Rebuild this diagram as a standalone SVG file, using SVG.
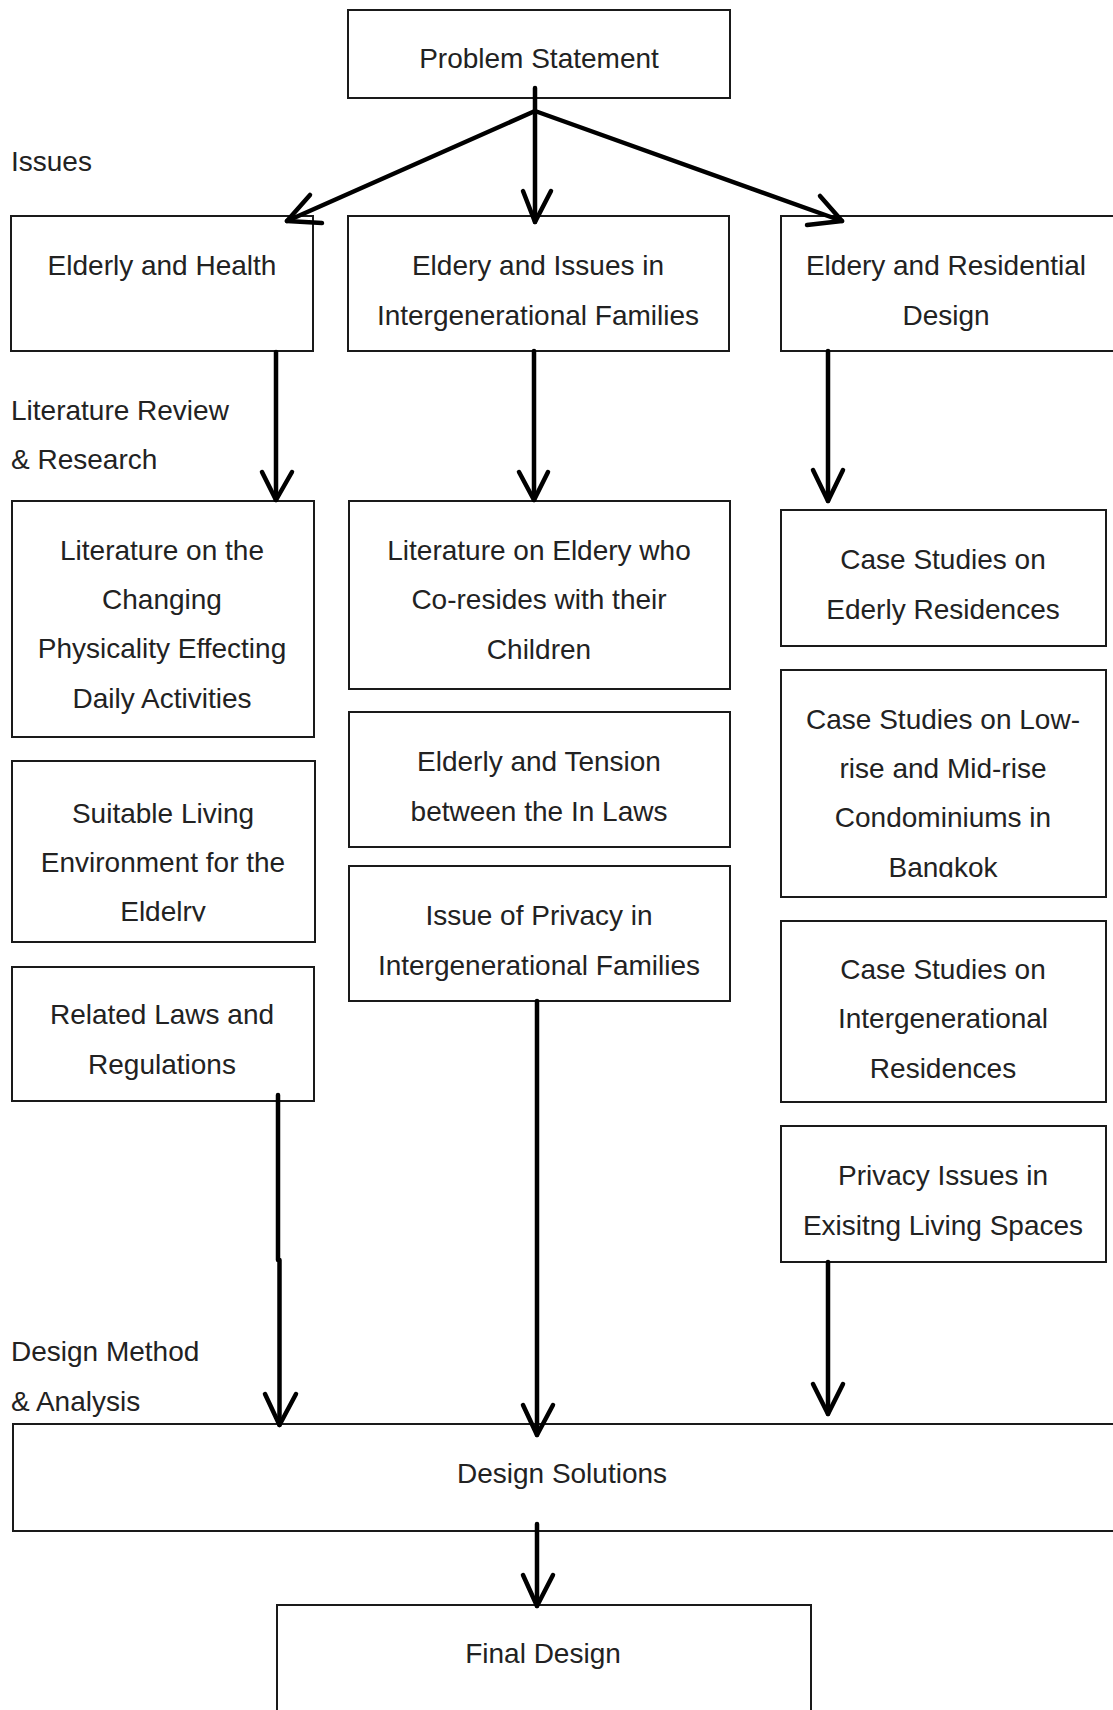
<svg xmlns="http://www.w3.org/2000/svg" width="1113" height="1710" viewBox="0 0 1113 1710">
<defs>
<style>
.box{fill:#fff;stroke:#1a1a1a;stroke-width:2}
.t{font-family:"Liberation Sans",Arial,sans-serif;font-size:28px;fill:#222;text-anchor:middle}
.l{font-family:"Liberation Sans",Arial,sans-serif;font-size:28px;fill:#222;text-anchor:start}
.c{fill:none;stroke:#000;stroke-width:4.5;stroke-linecap:round;stroke-linejoin:round}
</style>
<clipPath id="clipSuit"><rect x="0" y="740" width="400" height="181.5"/></clipPath>
<clipPath id="clipBkk"><rect x="770" y="660" width="343" height="217.5"/></clipPath>
</defs>
<rect width="1113" height="1710" fill="#fff"/>

<g id="labels">
<text class="l" x="11" y="171">Issues</text>
<text class="l" x="11" y="420">Literature Review</text>
<text class="l" x="11" y="469">&amp; Research</text>
<text class="l" x="11" y="1361">Design Method</text>
<text class="l" x="11" y="1411">&amp; Analysis</text>
</g>

<g id="problem-statement">
<rect class="box" x="348" y="10" width="382" height="88"/>
<text class="t" x="539" y="68">Problem Statement</text>
</g>

<g id="elderly-health">
<rect class="box" x="11" y="216" width="302" height="135"/>
<text class="t" x="162" y="275">Elderly and Health</text>
</g>
<g id="eldery-issues">
<rect class="box" x="348" y="216" width="381" height="135"/>
<text class="t" x="538" y="275">Eldery and Issues in</text>
<text class="t" x="538" y="325">Intergenerational Families</text>
</g>
<g id="eldery-residential">
<rect class="box" x="781" y="216" width="340" height="135"/>
<text class="t" x="946" y="275">Eldery and Residential</text>
<text class="t" x="946" y="325">Design</text>
</g>

<g id="lit-changing">
<rect class="box" x="12" y="501" width="302" height="236"/>
<text class="t" x="162" y="560">Literature on the</text>
<text class="t" x="162" y="609">Changing</text>
<text class="t" x="162" y="658">Physicality Effecting</text>
<text class="t" x="162" y="708">Daily Activities</text>
</g>
<g id="suitable-living">
<rect class="box" x="12" y="761" width="303" height="181"/>
<g clip-path="url(#clipSuit)">
<text class="t" x="163" y="823">Suitable Living</text>
<text class="t" x="163" y="872">Environment for the</text>
<text class="t" x="163" y="921">Eldelry</text>
</g>
</g>
<g id="related-laws">
<rect class="box" x="12" y="967" width="302" height="134"/>
<text class="t" x="162" y="1024">Related Laws and</text>
<text class="t" x="162" y="1074">Regulations</text>
</g>

<g id="lit-coresides">
<rect class="box" x="349" y="501" width="381" height="188"/>
<text class="t" x="539" y="560">Literature on Eldery who</text>
<text class="t" x="539" y="609">Co-resides with their</text>
<text class="t" x="539" y="659">Children</text>
</g>
<g id="tension">
<rect class="box" x="349" y="712" width="381" height="135"/>
<text class="t" x="539" y="771">Elderly and Tension</text>
<text class="t" x="539" y="821">between the In Laws</text>
</g>
<g id="privacy-families">
<rect class="box" x="349" y="866" width="381" height="135"/>
<text class="t" x="539" y="925">Issue of Privacy in</text>
<text class="t" x="539" y="975">Intergenerational Families</text>
</g>

<g id="case-ederly">
<rect class="box" x="781" y="510" width="325" height="136"/>
<text class="t" x="943" y="569">Case Studies on</text>
<text class="t" x="943" y="619">Ederly Residences</text>
</g>
<g id="case-condo">
<rect class="box" x="781" y="670" width="325" height="227"/>
<g clip-path="url(#clipBkk)">
<text class="t" x="943" y="729">Case Studies on Low-</text>
<text class="t" x="943" y="778">rise and Mid-rise</text>
<text class="t" x="943" y="827">Condominiums in</text>
<text class="t" x="943" y="877">Bangkok</text>
</g>
</g>
<g id="case-intergen">
<rect class="box" x="781" y="921" width="325" height="181"/>
<text class="t" x="943" y="979">Case Studies on</text>
<text class="t" x="943" y="1028">Intergenerational</text>
<text class="t" x="943" y="1078">Residences</text>
</g>
<g id="privacy-existing">
<rect class="box" x="781" y="1126" width="325" height="136"/>
<text class="t" x="943" y="1185">Privacy Issues in</text>
<text class="t" x="943" y="1235">Exisitng Living Spaces</text>
</g>

<g id="design-solutions">
<rect class="box" x="13" y="1424" width="1110" height="107"/>
<text class="t" x="562" y="1483">Design Solutions</text>
</g>
<g id="final-design">
<rect class="box" x="277" y="1605" width="534" height="115"/>
<text class="t" x="543" y="1663">Final Design</text>
</g>

<g id="connectors">
<path class="c" d="M535 88 V222"/>
<polyline class="c" points="523,191 535,222 551,191"/>
<path class="c" d="M535 111 L287 221"/>
<polyline class="c" points="310,195 287,221 322,223"/>
<path class="c" d="M535 111 L842 221"/>
<polyline class="c" points="820,196 842,221 807,225"/>

<path class="c" d="M276 352 V500"/>
<polyline class="c" points="262,472 276,500 292,472"/>
<path class="c" d="M534 351 V500"/>
<polyline class="c" points="519,472 534,500 548,472"/>
<path class="c" d="M828 351 V501"/>
<polyline class="c" points="813,470 828,501 843,470"/>

<path class="c" d="M278 1095 V1260"/>
<path class="c" d="M279.5 1260 V1425"/>
<polyline class="c" points="265,1394 279.5,1425 296,1394"/>
<path class="c" d="M537 1001 V1435"/>
<polyline class="c" points="523,1405 537,1435 553,1405"/>
<path class="c" d="M828 1262 V1414"/>
<polyline class="c" points="813,1384 828,1414 843,1384"/>

<path class="c" d="M537 1524 V1606"/>
<polyline class="c" points="523,1575 537,1606 553,1575"/>
</g>
</svg>
